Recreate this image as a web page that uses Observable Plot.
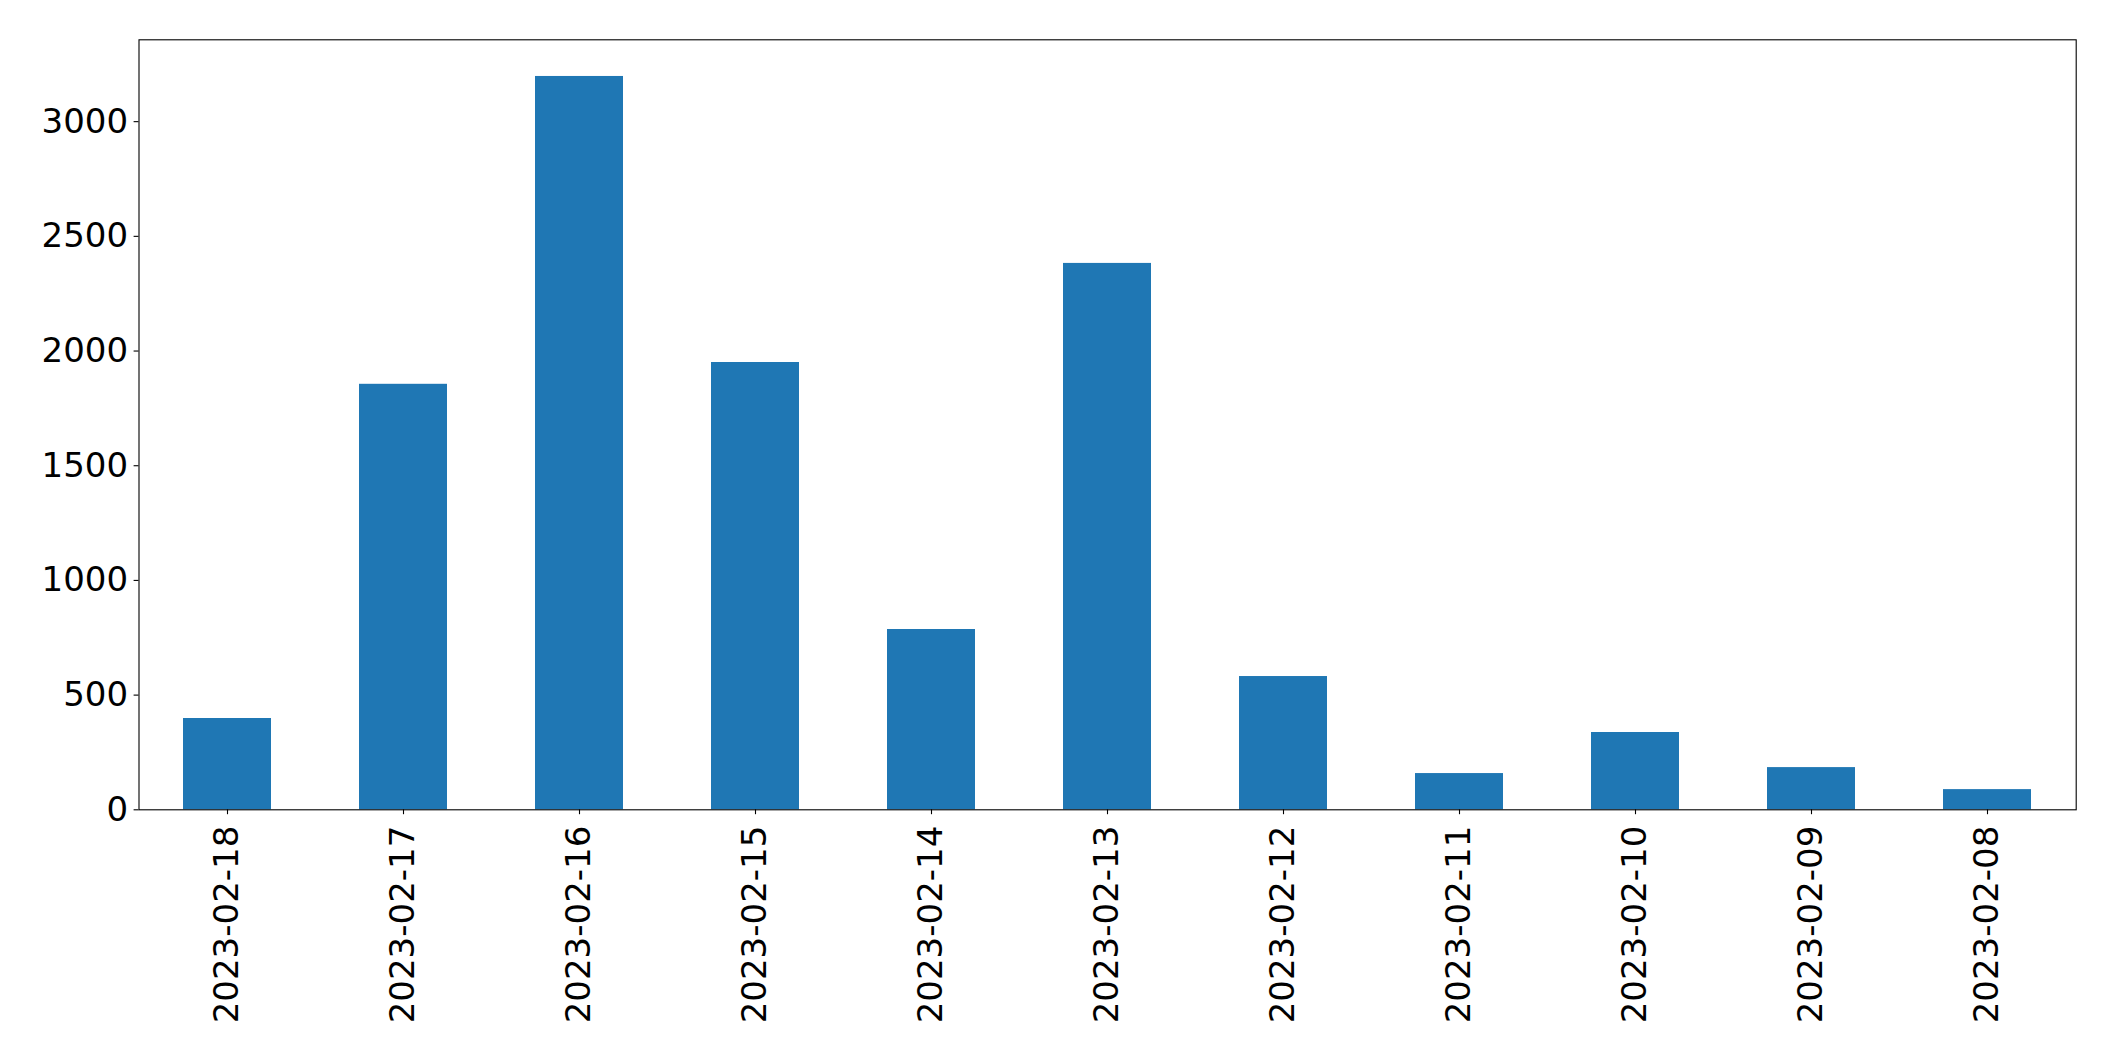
<!DOCTYPE html>
<html>
<head>
<meta charset="utf-8">
<script src="https://cdn.jsdelivr.net/npm/d3@7"></script>
<script src="https://cdn.jsdelivr.net/npm/@observablehq/plot@0.6"></script>
<style>
  html, body { margin: 0; padding: 0; background: #fff; }
  #chart svg { display: block; }
</style>
</head>
<body>
<div id="chart"></div>
<script>
const dates = ["2023-02-18", "2023-02-17", "2023-02-16", "2023-02-15", "2023-02-14", "2023-02-13", "2023-02-12", "2023-02-11", "2023-02-10", "2023-02-09", "2023-02-08"];
const counts = [398, 1855, 3197, 1950, 786, 2382, 581, 158, 337, 184, 88];
const yTicks = [0, 500, 1000, 1500, 2000, 2500, 3000];

const data = dates.map((d, i) => ({date: d, count: counts[i]}));
const yMax = d3.max(counts) * 1.05;

const chart = Plot.plot({
  width: 2115,
  height: 1061,
  marginLeft: 138.5,
  marginRight: 39.3,
  marginTop: 39.3,
  marginBottom: 251.7,
  style: {fontFamily: "DejaVu Sans", fontSize: "34px", background: "#fff", color: "#000"},
  x: {domain: dates, paddingInner: 0.5, paddingOuter: 0.25, label: null},
  y: {domain: [0, yMax], label: null},
  marks: [
    Plot.barY(data, {x: "date", y: "count", fill: "#1f77b4"}),
    Plot.axisX({tickRotate: -90, tickSize: 4.9, tickPadding: 11, fontSize: 34, stroke: "#000", strokeWidth: 1.1, fill: "#000", label: null}),
    Plot.axisY({ticks: yTicks, tickFormat: d3.format("d"), tickSize: 4.9, tickPadding: 6, fontSize: 34, stroke: "#000", strokeWidth: 1.1, fill: "#000", label: null}),
    Plot.frame({stroke: "#000", strokeWidth: 1.1})
  ]
});
document.getElementById("chart").appendChild(chart);
</script>
</body>
</html>
